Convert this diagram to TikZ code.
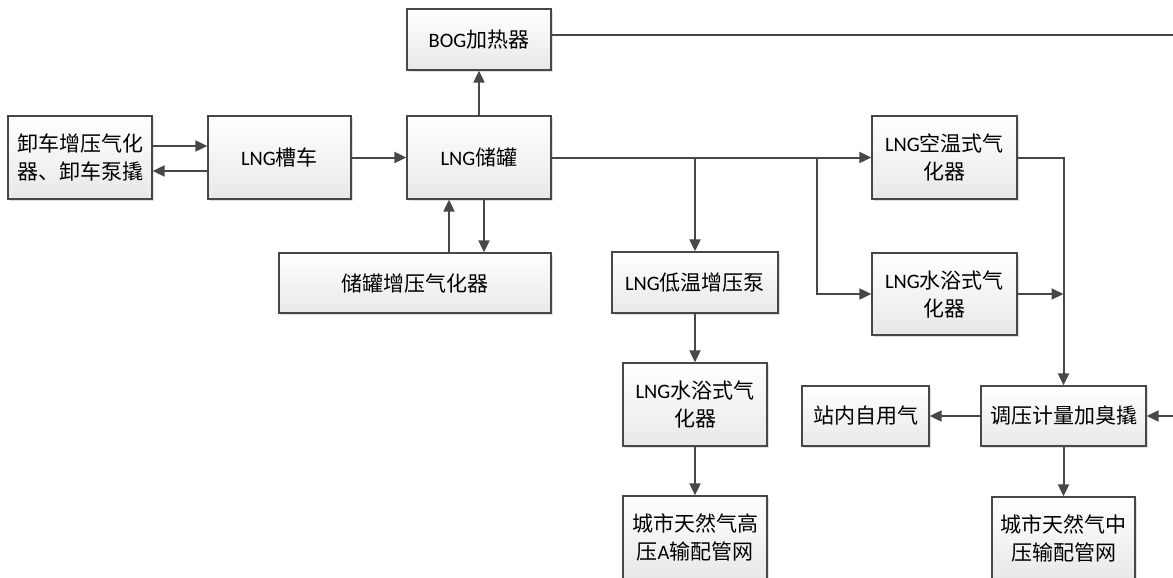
\documentclass[tikz,border=0pt]{standalone}
\usepackage{fontspec}
\setmainfont{Noto Sans CJK SC}
\newfontfamily\lat{Carlito}
\usetikzlibrary{arrows.meta,shadows}
\begin{document}
\begin{tikzpicture}[x=1pt,y=-1pt,
  box/.style={draw=black!72, line width=1.3pt, top color=white, bottom color=black!9,
    drop shadow={shadow xshift=2pt, shadow yshift=-2pt, opacity=0.25, fill=black!50},
    inner sep=0pt, align=center, font=\fontsize{21}{28}\selectfont},
  conn/.style={draw=black!72, line width=2pt},
  arr/.style={conn, -{Triangle[length=12pt,width=11pt]}}]
\useasboundingbox (0,0) rectangle (1173,578);
\newcommand\LNG{{\lat\fontsize{20.5}{28}\selectfont LNG}}
\node[box, minimum width=144pt, minimum height=83pt] (xiech) at (80,157.5) {卸车增压气化\\器、卸车泵撬};
\node[box, minimum width=143pt, minimum height=83pt] (cao) at (279.5,157.5) {\LNG 槽车};
\node[box, minimum width=144pt, minimum height=83pt] (guan) at (479,157.5) {\LNG 储罐};
\node[box, minimum width=144pt, minimum height=61pt] (bog) at (479,39.5) {{\lat\fontsize{20.5}{28}\selectfont BOG}加热器};
\node[box, minimum width=272pt, minimum height=60pt] (zengya) at (415,283) {储罐增压气化器};
\node[box, minimum width=166pt, minimum height=61pt] (pump) at (695,282.5) {\LNG 低温增压泵};
\node[box, minimum width=145pt, minimum height=83pt] (kongwen) at (944.5,157.5) {\LNG 空温式气\\化器};
\node[box, minimum width=145pt, minimum height=82pt] (shuiyu2) at (944.5,294) {\LNG 水浴式气\\化器};
\node[box, minimum width=144pt, minimum height=83pt] (shuiyu1) at (695,404.5) {\LNG 水浴式气\\化器};
\node[box, minimum width=144pt, minimum height=83pt] (gaoya) at (695,537.5) {城市天然气高\\压{\lat\fontsize{20.5}{28}\selectfont A}输配管网};
\node[box, minimum width=127pt, minimum height=60pt] (ziyong) at (865.5,416) {站内自用气};
\node[box, minimum width=165pt, minimum height=60pt] (tiaoya) at (1063.5,416) {调压计量加臭撬};
\node[box, minimum width=143pt, minimum height=83pt] (zhongya) at (1063.5,538.5) {城市天然气中\\压输配管网};
\coordinate (rtop) at (1185,35);
\coordinate (rbot) at (1185,416);
\coordinate (b2) at (817,157.5);
% connectors
\draw[arr] ([yshift=11.5pt]xiech.east) -- ([yshift=11.5pt]cao.west);
\draw[arr] ([yshift=-13.5pt]cao.west) -- ([yshift=-13.5pt]xiech.east);
\draw[arr] (cao.east) -- (guan.west);
\draw[arr] (guan.north) -- (bog.south);
\draw[conn] ([yshift=4.5pt]bog.east) -- (rtop) -- (rbot);
\draw[arr] (rbot) -- (tiaoya.east);
\draw[arr] (guan.east) -- (kongwen.west);
\draw[arr] (guan.east -| pump.north) -- (pump.north);
\draw[arr] (b2) -- (b2 |- shuiyu2.west) -- (shuiyu2.west);
\draw[arr] ([xshift=-30pt]guan.south |- zengya.north) -- ([xshift=-30pt]guan.south);
\draw[arr] ([xshift=5pt]guan.south) -- ([xshift=5pt]guan.south |- zengya.north);
\draw[arr] (kongwen.east) -| (tiaoya.north);
\draw[arr] (shuiyu2.east) -- (shuiyu2.east -| tiaoya.north);
\draw[arr] (pump.south) -- (shuiyu1.north);
\draw[arr] (shuiyu1.south) -- (gaoya.north);
\draw[arr] (tiaoya.west) -- (ziyong.east);
\draw[arr] (tiaoya.south) -- (zhongya.north);
\end{tikzpicture}
\end{document}
